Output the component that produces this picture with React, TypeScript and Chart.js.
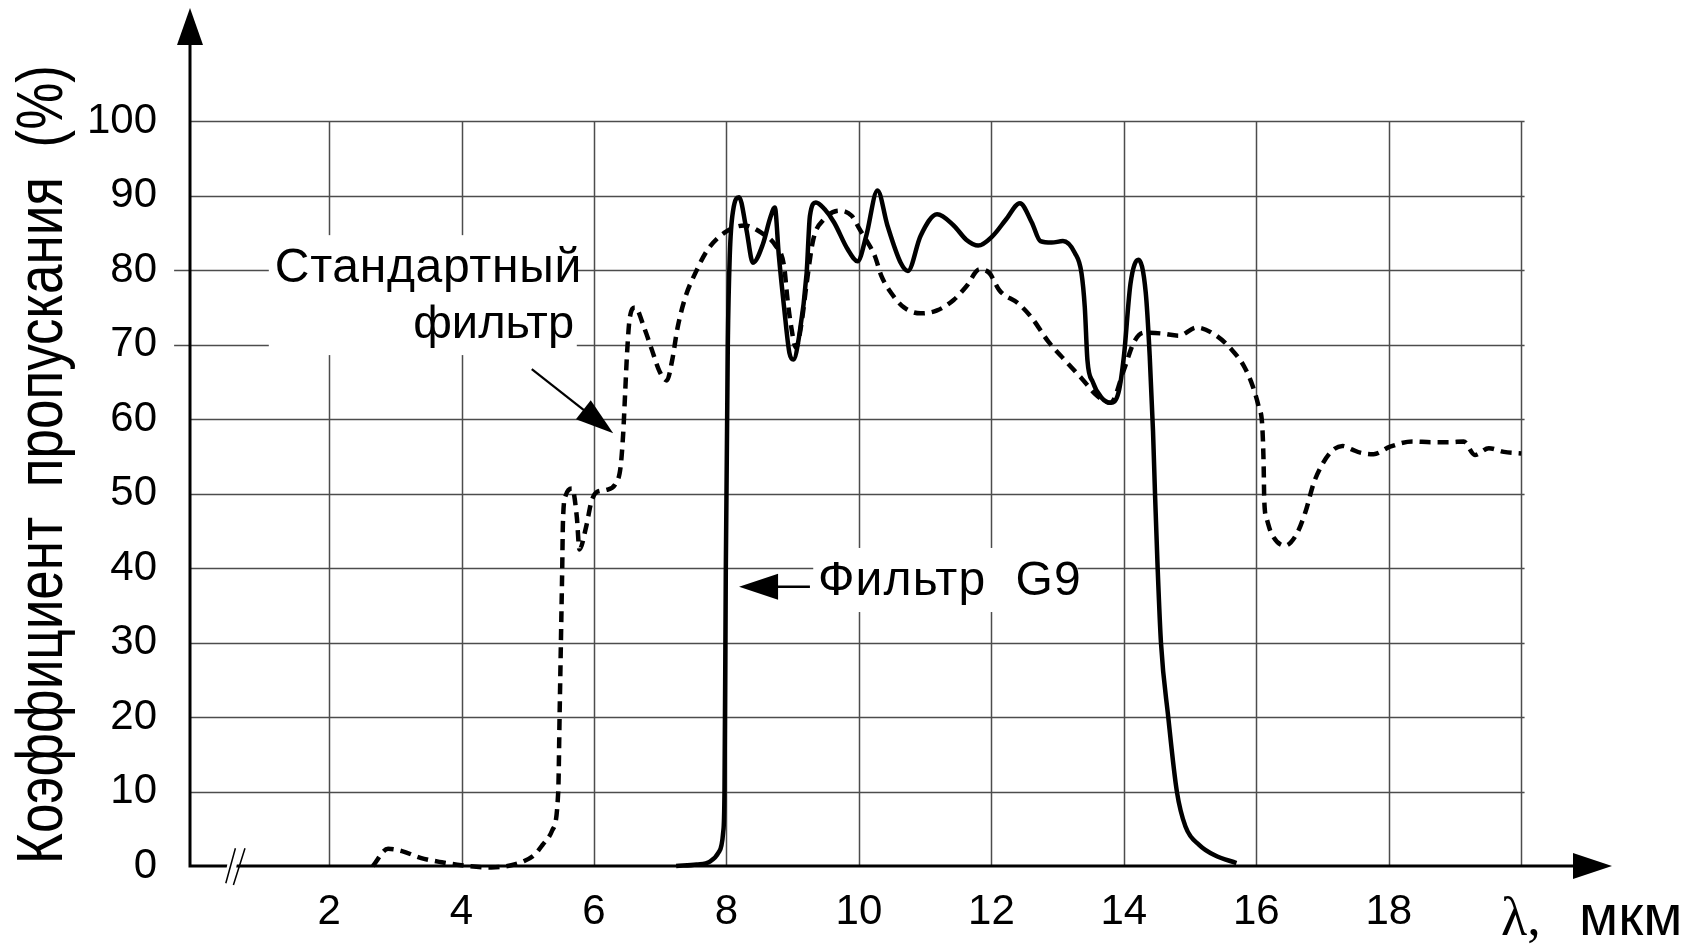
import React, { useEffect, useRef } from 'react';
import { Chart, registerables } from 'chart.js';

Chart.register(...registerables);

const SANS = '"Liberation Sans", Arial, Helvetica, sans-serif';
const SERIF = '"Liberation Serif", "Times New Roman", serif';

// Axis ticks and grid
const xTickValues = [2, 4, 6, 8, 10, 12, 14, 16, 18];
const yTickValues = [0, 10, 20, 30, 40, 50, 60, 70, 80, 90, 100];
const gridXValues = [2, 4, 6, 8, 10, 12, 14, 16, 18, 20];
const gridYValues = [10, 20, 30, 40, 50, 60, 70, 80, 90, 100];

// Text
const yAxisTitle = 'Коэффициент  пропускания  (%)';
const xAxisSymbol = 'λ,';
const xAxisUnit = 'мкм';
const stdLabelLines = ['Стандартный', 'фильтр'];
const g9Label = 'Фильтр  G9';
const seriesNames = ['Стандартный фильтр', 'Фильтр G9'];

// Series: Фильтр G9 (solid)
const g9Wavelength = [
  7.24, 7.55, 7.75, 7.88, 7.95, 7.97, 7.99, 8.02, 8.05, 8.1, 8.19, 8.3, 8.4, 8.55, 8.66, 8.73,
  8.79, 8.87, 8.95, 9.01, 9.1, 9.21, 9.26, 9.35, 9.48, 9.625, 9.83, 9.98, 10.11, 10.28, 10.43,
  10.63, 10.74, 10.93, 11.18, 11.43, 11.62, 11.8, 12.02, 12.22, 12.43, 12.61, 12.74, 12.91,
  13.08, 13.26, 13.36, 13.41, 13.45, 13.53, 13.66, 13.8, 13.92, 14.0, 14.1, 14.22, 14.33,
  14.39, 14.44, 14.47, 14.51, 14.56, 14.67, 14.8, 14.93, 15.14, 15.38, 15.7,
];
const g9Transmission = [
  0, 0.2, 0.6, 1.8, 4.5, 10, 40, 70, 82, 88, 89.8, 85.5, 81.0, 83.5, 87, 88.4,
  82, 75, 68.9, 68.0, 71.3, 79.6, 87.3, 89.1, 88.2, 86.4, 82.8, 81.2, 84.6, 90.7, 86.0,
  81.0, 79.9, 84.6, 87.5, 86.0, 84.1, 83.3, 84.6, 86.8, 89.0, 86.4, 83.9, 83.7,
  83.9, 82.3, 79.6, 75.0, 67.9, 65.0, 62.9, 62.2, 63.6, 68.4, 78.2, 81.4, 77,
  68.5, 58.4, 50, 40, 30, 20, 10, 5.3, 2.8, 1.4, 0.4,
];

// Series: Стандартный фильтр (dashed)
const stdWavelength = [
  2.66, 2.89, 3.1, 3.38, 3.7, 4.0, 4.45, 4.75, 4.93, 5.1, 5.22, 5.37, 5.46, 5.48, 5.5, 5.52,
  5.53, 5.57, 5.67, 5.74, 5.78, 5.88, 5.96, 6.04, 6.19, 6.33, 6.4, 6.44, 6.47, 6.5, 6.54,
  6.62, 6.76, 6.87, 6.99, 7.1, 7.18, 7.26, 7.38, 7.54, 7.72, 8.0, 8.27, 8.53, 8.74, 8.87,
  8.92, 8.97, 9.05, 9.13, 9.21, 9.31, 9.47, 9.7, 9.89, 10.01, 10.14, 10.24, 10.34, 10.49,
  10.68, 10.93, 11.18, 11.43, 11.62, 11.82, 11.97, 12.12, 12.41, 12.61, 12.86, 13.11, 13.36,
  13.6, 13.8, 14.0, 14.15, 14.3, 14.57, 14.83, 15.1, 15.38, 15.62, 15.82, 15.95, 16.04,
  16.09, 16.11, 16.12, 16.16, 16.22, 16.43, 16.61, 16.74, 16.87, 17.0, 17.15, 17.3, 17.45,
  17.57, 17.77, 18.02, 18.36, 18.64, 18.93, 19.13, 19.3, 19.51, 19.74, 20.0,
];
const stdTransmission = [
  0, 2.3, 2.0, 1.1, 0.5, 0.1, -0.2, 0.1, 0.6, 1.5, 2.8, 4.8, 10, 20, 30, 40,
  45.9, 49.7, 50.7, 46.9, 42.5, 45.5, 48.9, 50.2, 50.5, 51.4, 53.5, 58, 63.5, 69, 73.6,
  75.0, 72.2, 69.4, 66.4, 65.2, 67.9, 72.2, 76.4, 79.8, 82.8, 85.2, 86.0, 85.0, 83.3, 80.5,
  76.2, 72.8, 69.6, 72.7, 78.2, 84.1, 86.8, 88.0, 87.3, 85.5, 83.6, 81.9, 79.2, 76.9,
  75.0, 74.2, 74.6, 76.0, 77.8, 80.1, 79.6, 77.3, 75.5, 73.6, 70.4, 67.9, 65.5,
  63.1, 62.2, 66.6, 70.3, 71.6, 71.5, 71.2, 72.3, 71.3, 69.4, 67.0, 64.3, 61.5,
  59, 54, 49, 46.5, 44.8, 43.0, 44.6, 47.5, 51.5, 54.0, 55.8, 56.4, 55.9,
  55.5, 55.3, 56.3, 57.0, 56.9, 56.9, 57.0, 55.2, 56.1, 55.6, 55.4,
];

function arrowHead(ctx: CanvasRenderingContext2D, tx: number, ty: number, angle: number, len: number, half: number) {
  const bx = tx - Math.cos(angle) * len;
  const by = ty - Math.sin(angle) * len;
  const nx = -Math.sin(angle);
  const ny = Math.cos(angle);
  ctx.beginPath();
  ctx.moveTo(tx, ty);
  ctx.lineTo(bx + nx * half, by + ny * half);
  ctx.lineTo(bx - nx * half, by - ny * half);
  ctx.closePath();
  ctx.fill();
}

const decorPlugin = {
  id: 'decor',
  beforeDatasetsDraw(chart: any) {
    const { ctx, chartArea, scales } = chart;
    const xs = scales.x;
    const ys = scales.y;
    ctx.save();
    ctx.strokeStyle = 'rgba(0,0,0,0.7)';
    ctx.lineWidth = 1.5;
    ctx.beginPath();
    for (const v of gridXValues) {
      const px = Math.round(xs.getPixelForValue(v)) + 0.5;
      ctx.moveTo(px, ys.getPixelForValue(0));
      ctx.lineTo(px, ys.getPixelForValue(100));
    }
    for (const v of gridYValues) {
      const py = Math.round(ys.getPixelForValue(v)) + 0.5;
      const left = v === 80 || v === 70 ? xs.getPixelForValue(-0.34) : chartArea.left;
      ctx.moveTo(left, py);
      ctx.lineTo(xs.getPixelForValue(20.05), py);
    }
    ctx.stroke();
    // white backgrounds behind the annotations
    ctx.fillStyle = '#fff';
    const box = (x0: number, x1: number, y0: number, y1: number) => {
      const l = xs.getPixelForValue(x0);
      const r = xs.getPixelForValue(x1);
      const t = ys.getPixelForValue(y1);
      const b = ys.getPixelForValue(y0);
      ctx.fillRect(l, t, r - l, b - t);
    };
    box(1.09, 5.74, 68.6, 84.7);
    box(9.31, 13.3, 34.1, 42.7);
    ctx.restore();
  },
  afterDatasetsDraw(chart: any) {
    const { ctx, chartArea, scales } = chart;
    const xs = scales.x;
    const ys = scales.y;
    const L = chartArea.left;
    const B = chartArea.bottom;
    ctx.save();
    ctx.fillStyle = '#000';
    ctx.strokeStyle = '#000';
    // axes
    ctx.lineWidth = 3;
    ctx.beginPath();
    ctx.moveTo(L, B + 1.5);
    ctx.lineTo(L, chartArea.top + 30);
    ctx.moveTo(L - 1.5, B);
    ctx.lineTo(chartArea.right - 30, B);
    ctx.stroke();
    arrowHead(ctx, L, chartArea.top, -Math.PI / 2, 37, 13);
    arrowHead(ctx, chartArea.right, B, 0, 39, 13);
    // axis break mark
    ctx.fillStyle = '#fff';
    ctx.beginPath();
    ctx.moveTo(L + 38.5, B - 8);
    ctx.lineTo(L + 48, B - 8);
    ctx.lineTo(L + 45, B + 8);
    ctx.lineTo(L + 35.5, B + 8);
    ctx.closePath();
    ctx.fill();
    ctx.lineWidth = 1.5;
    ctx.beginPath();
    ctx.moveTo(L + 35.8, B + 17.3);
    ctx.lineTo(L + 45.4, B - 17.7);
    ctx.moveTo(L + 43.4, B + 19);
    ctx.lineTo(L + 55, B - 17.7);
    ctx.stroke();
    ctx.fillStyle = '#000';

    // Standard filter label + arrow
    ctx.textBaseline = 'alphabetic';
    ctx.textAlign = 'left';
    ctx.font = `48px ${SANS}`;
    (ctx as any).letterSpacing = '0.7px';
    ctx.fillText(stdLabelLines[0], xs.getPixelForValue(1.18), ys.getPixelForValue(78.4));
    (ctx as any).letterSpacing = '0px';
    ctx.font = `47px ${SANS}`;
    ctx.fillText(stdLabelLines[1], xs.getPixelForValue(3.27), ys.getPixelForValue(70.9));
    {
      const x0 = xs.getPixelForValue(5.06), y0 = ys.getPixelForValue(66.7);
      const x1 = xs.getPixelForValue(6.29), y1 = ys.getPixelForValue(58.1);
      const ang = Math.atan2(y1 - y0, x1 - x0);
      ctx.lineWidth = 2.2;
      ctx.beginPath();
      ctx.moveTo(x0, y0);
      ctx.lineTo(x1 - Math.cos(ang) * 30, y1 - Math.sin(ang) * 30);
      ctx.stroke();
      arrowHead(ctx, x1, y1, ang, 38, 12);
    }
    // G9 label + arrow
    ctx.font = `48px ${SANS}`;
    (ctx as any).letterSpacing = '1.2px';
    ctx.fillText(g9Label, xs.getPixelForValue(9.38), ys.getPixelForValue(36.4));
    (ctx as any).letterSpacing = '0px';
    {
      const y0 = ys.getPixelForValue(37.5);
      const x0 = xs.getPixelForValue(9.26);
      const x1 = xs.getPixelForValue(8.19);
      ctx.lineWidth = 2.5;
      ctx.beginPath();
      ctx.moveTo(x0, y0);
      ctx.lineTo(x1 + 30, y0);
      ctx.stroke();
      arrowHead(ctx, x1, y0, Math.PI, 39, 13);
    }
    // x axis unit
    ctx.font = `54px ${SERIF}`;
    ctx.fillText(xAxisSymbol, 1501, 935);
    ctx.font = `57px ${SANS}`;
    ctx.fillText(xAxisUnit, 1579, 935);

    // y axis title (rotated)
    ctx.save();
    ctx.font = `64px ${SANS}`;
    const w = ctx.measureText(yAxisTitle).width;
    const target = 799;
    ctx.translate(62, 464.5);
    ctx.rotate(-Math.PI / 2);
    ctx.scale(target / w, 1);
    ctx.textAlign = 'center';
    ctx.textBaseline = 'alphabetic';
    ctx.fillText(yAxisTitle, 0, 0);
    ctx.restore();

    ctx.restore();
  },
};

const zeroPadding = (s: any) => {
  s.paddingTop = 0;
  s.paddingBottom = 0;
  s.paddingLeft = 0;
  s.paddingRight = 0;
};

export default function App() {
  const canvasRef = useRef<HTMLCanvasElement | null>(null);

  useEffect(() => {
    const canvas = canvasRef.current;
    if (!canvas) return;
    const chart = new Chart(canvas, {
      type: 'line',
      data: {
        datasets: [
          {
            label: seriesNames[0],
            data: stdWavelength.map((x, i) => ({ x, y: stdTransmission[i] })),
            borderColor: '#000',
            borderWidth: 4.5,
            borderDash: [11, 7],
            pointRadius: 0,
            cubicInterpolationMode: 'monotone',
            fill: false,
            clip: 12,
          },
          {
            label: seriesNames[1],
            data: g9Wavelength.map((x, i) => ({ x, y: g9Transmission[i] })),
            borderColor: '#000',
            borderWidth: 4.5,
            pointRadius: 0,
            cubicInterpolationMode: 'monotone',
            fill: false,
            clip: 12,
          },
        ],
      },
      options: {
        animation: false,
        responsive: false,
        devicePixelRatio: 1,
        layout: { padding: { top: 8, right: 92, left: 0, bottom: 0 } },
        plugins: { legend: { display: false }, tooltip: { enabled: false } },
        scales: {
          x: {
            type: 'linear',
            min: -0.1,
            max: 21.37,
            grid: { display: false, drawTicks: false },
            border: { display: false },
            afterFit: (s: any) => {
              s.height = 83;
              zeroPadding(s);
            },
            afterBuildTicks: (s: any) => {
              s.ticks = xTickValues.map((value) => ({ value }));
            },
            ticks: {
              autoSkip: false,
              maxRotation: 0,
              minRotation: 0,
              padding: 21,
              color: '#000',
              font: { family: SANS, size: 42 },
              callback: (v: any) => String(v),
            },
          },
          y: {
            type: 'linear',
            min: 0,
            max: 115.2,
            grid: { display: false, drawTicks: false },
            border: { display: false },
            afterFit: (s: any) => {
              s.width = 190;
              zeroPadding(s);
            },
            afterBuildTicks: (s: any) => {
              s.ticks = yTickValues.map((value) => ({ value }));
            },
            ticks: {
              autoSkip: false,
              padding: 33,
              color: '#000',
              font: { family: SANS, size: 42 },
              callback: (v: any) => String(v),
            },
          },
        },
      },
      plugins: [decorPlugin],
    } as any);
    return () => chart.destroy();
  }, []);

  return (
    <div style={{ position: 'fixed', left: 0, top: 0, width: 1704, height: 949, background: '#fff' }}>
      <canvas ref={canvasRef} width={1704} height={949} style={{ display: 'block', width: 1704, height: 949 }} />
    </div>
  );
}
